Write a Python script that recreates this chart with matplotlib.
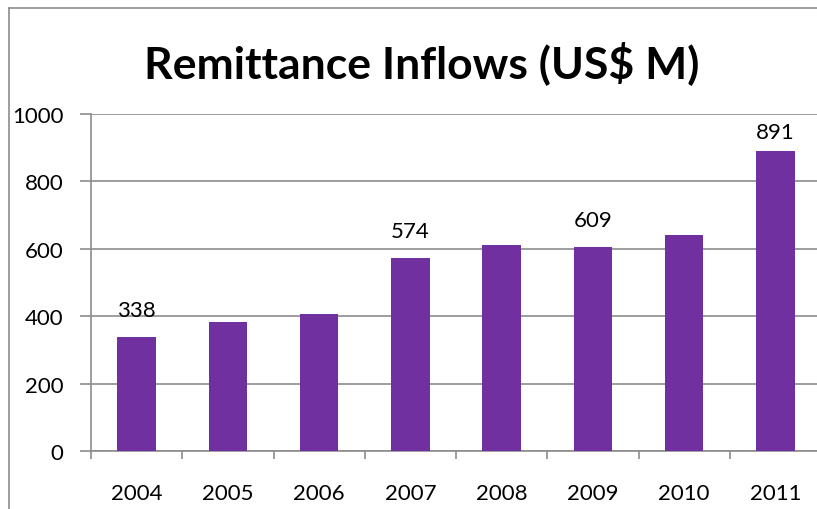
import matplotlib
matplotlib.use("Agg")
import matplotlib.pyplot as plt
from matplotlib.lines import Line2D

# data
years = ["2004", "2005", "2006", "2007", "2008", "2009", "2010", "2011"]
inflows = [338, 384, 408, 572, 612, 606, 642, 891]
shown = [338, None, None, 574, None, 609, None, 891]

plt.rcParams['font.family'] = ['Lato', 'DejaVu Sans']

W, H = 817, 510
fig = plt.figure(figsize=(W / 100, H / 100), dpi=100)

# outer chart border (only top and left are visible in the crop)
fig.add_artist(Line2D([8.5 / W, 8.5 / W], [0, 1 - 8.5 / H], color='#8c8c8c', lw=1.2))
fig.add_artist(Line2D([8.5 / W, 1], [1 - 8.5 / H, 1 - 8.5 / H], color='#8c8c8c', lw=1.2))

# plot area runs a little past the right edge of the picture
left, right, top, bottom = 91, 821, 115, 452
ax = fig.add_axes([left / W, 1 - bottom / H, (right - left) / W, (bottom - top) / H])

x = range(len(years))
ax.bar(x, inflows, width=0.42, color='#7030A0', zorder=3)

for i, (v, lab) in enumerate(zip(inflows, shown)):
    if lab is not None:
        # labels sit ~17px above the bar, pushed down near the top of the plot
        ypos = min(v + 50, 918)
        ax.text(i, ypos, str(lab), ha='center', va='bottom', fontsize=16, color='black')

ax.set_xlim(-0.5, len(years) - 0.5)
ax.set_ylim(0, 1000)
ax.set_yticks(range(0, 1001, 200))
ax.set_xticks([i - 0.5 for i in range(len(years) + 1)], minor=False)
ax.set_xticklabels([])
ax.set_xticks(list(x), minor=True)
ax.set_xticklabels(years, minor=True)
ax.tick_params(axis='x', which='major', length=6, color='#8c8c8c', width=1.2)
ax.tick_params(axis='x', which='minor', length=0, labelsize=16, pad=23)
ax.tick_params(axis='y', length=8, color='#8c8c8c', width=1.2, labelsize=16, pad=12)

ax.grid(axis='y', color='#8c8c8c', lw=1.2, zorder=0)
for s in ['top', 'right']:
    ax.spines[s].set_visible(False)
for s in ['left', 'bottom']:
    ax.spines[s].set_color('#8c8c8c')
    ax.spines[s].set_linewidth(1.2)

fig.text(422 / W, 1 - 63 / H, "Remittance Inflows (US$ M)", ha='center', va='center',
         fontsize=32, fontweight='bold')

fig.savefig("out.png", dpi=100)
